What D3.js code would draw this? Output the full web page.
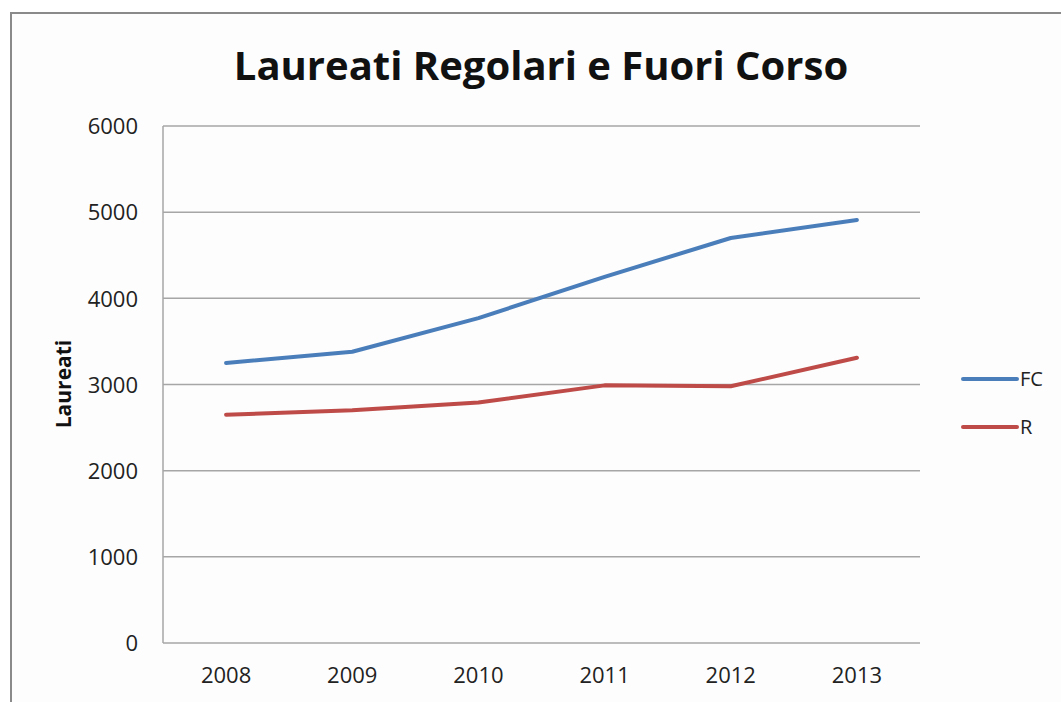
<!DOCTYPE html>
<html>
<head>
<meta charset="utf-8">
<script src="https://cdn.jsdelivr.net/npm/d3@7"></script>
<style>
  body { margin: 0; background: #fff; }
  svg text { font-family: "Open Sans", "Noto Sans", sans-serif; fill: #222; }
</style>
</head>
<body>
<div class="chart"></div>
<script>
const years = ["2008", "2009", "2010", "2011", "2012", "2013"];
const fcValues = [3250, 3380, 3770, 4250, 4700, 4910];
const rValues = [2650, 2700, 2790, 2990, 2980, 3310];
const yTicks = [0, 1000, 2000, 3000, 4000, 5000, 6000];
const seriesNames = ["FC", "R"];
const seriesColors = ["#4a7ebb", "#be4b48"];

const W = 1061, H = 702;
const margin = {top: 126, right: 141, bottom: 59, left: 163};
const width = W - margin.left - margin.right;
const height = H - margin.top - margin.bottom;

const root = d3.select(".chart").append("svg")
    .attr("width", W)
    .attr("height", H);

// outer frame
root.append("rect")
    .attr("x", 11).attr("y", 13)
    .attr("width", W + 20).attr("height", H + 20)
    .attr("fill", "#fdfdfd")
    .attr("stroke", "#8a8a8a")
    .attr("stroke-width", 2);

root.append("text")
    .attr("x", 541).attr("y", 80)
    .attr("text-anchor", "middle")
    .style("font-size", "40px")
    .style("font-weight", "bold")
    .style("fill", "#111")
    .text("Laureati Regolari e Fuori Corso");

const svg = root.append("g")
    .attr("transform", `translate(${margin.left},${margin.top})`);

const x = d3.scaleBand().domain(years).range([0, width]);
const y = d3.scaleLinear().domain([0, 6000]).range([height, 0]);

// gridlines
svg.append("g")
    .selectAll("line")
    .data(yTicks)
    .join("line")
    .attr("x1", 0).attr("x2", width)
    .attr("y1", d => y(d)).attr("y2", d => y(d))
    .attr("stroke", "#a6a6a6")
    .attr("stroke-width", 1.5);

svg.append("line")
    .attr("x1", 0).attr("x2", 0)
    .attr("y1", 0).attr("y2", height)
    .attr("stroke", "#a6a6a6")
    .attr("stroke-width", 1.5);

let yAxis = d3.axisLeft(y).tickValues(yTicks).tickFormat(d3.format("d")).tickSize(0).tickPadding(25);
let gy = svg.append("g").call(yAxis);
gy.select(".domain").remove();
gy.selectAll("text").style("font-size", "22px").attr("dy", "0.35em");

let xAxis = d3.axisBottom(x).tickSize(0).tickPadding(24);
let gx = svg.append("g")
    .attr("transform", `translate(0,${height})`)
    .call(xAxis);
gx.select(".domain").remove();
gx.selectAll("text").style("font-size", "22px");

root.append("text")
    .attr("transform", `translate(71,384) rotate(-90)`)
    .attr("text-anchor", "middle")
    .style("font-size", "21px")
    .style("font-weight", "bold")
    .style("fill", "#111")
    .text("Laureati");

const line = d3.line()
    .x((d, i) => x(years[i]) + x.bandwidth() / 2)
    .y(d => y(d));

[fcValues, rValues].forEach((vals, i) => {
    svg.append("path")
        .datum(vals)
        .attr("fill", "none")
        .attr("stroke", seriesColors[i])
        .attr("stroke-width", 4)
        .attr("stroke-linejoin", "round")
        .attr("stroke-linecap", "round")
        .attr("d", line);
});

// legend
const legend = root.append("g")
    .selectAll("g")
    .data(seriesNames)
    .join("g")
    .attr("transform", (d, i) => `translate(963,${379 + i * 48})`);

legend.append("line")
    .attr("x1", 0).attr("x2", 54)
    .attr("stroke", (d, i) => seriesColors[i])
    .attr("stroke-width", 4)
    .attr("stroke-linecap", "round");

legend.append("text")
    .attr("x", 57).attr("dy", "0.35em")
    .style("font-size", "20px")
    .text(d => d);
</script>
</body>
</html>
